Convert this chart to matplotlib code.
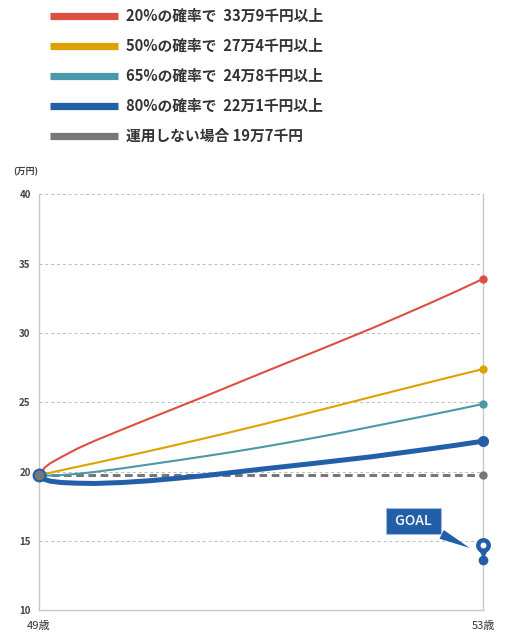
import matplotlib
matplotlib.use("Agg")
import matplotlib.pyplot as plt
from matplotlib.lines import Line2D
from matplotlib.transforms import offset_copy

plt.rcParams['font.family'] = ['Noto Sans CJK JP', 'DejaVu Sans']

# ages (years) and the simulated value of each scenario (万円)
ages = [49, 49.05, 49.1, 49.2, 49.35, 49.5, 49.75, 50, 50.25, 50.5, 50.75,
        51, 51.25, 51.5, 51.75, 52, 52.25, 52.5, 52.75, 53]
p20 = [19.75, 20.28, 20.6, 21.05, 21.68, 22.22, 23.04, 23.85, 24.65, 25.45,
       26.27, 27.09, 27.9, 28.7, 29.52, 30.34, 31.2, 32.07, 32.97, 33.9]
p50 = [19.75, 19.84, 19.92, 20.1, 20.36, 20.615, 21.055, 21.5, 21.955, 22.42,
       22.895, 23.38, 23.875, 24.38, 24.89, 25.4, 25.905, 26.41, 26.91, 27.4]
p65 = [19.75, 19.73, 19.72, 19.75, 19.85, 19.98, 20.24, 20.53, 20.82, 21.12,
       21.43, 21.76, 22.11, 22.47, 22.85, 23.25, 23.65, 24.05, 24.46, 24.88]
p80 = [19.75, 19.45, 19.32, 19.22, 19.17, 19.15, 19.22, 19.35, 19.53, 19.72,
       19.95, 20.18, 20.4, 20.62, 20.85, 21.08, 21.35, 21.62, 21.9, 22.2]
no_invest = [19.75, 19.75]
no_invest_ages = [49, 53]
goal_age = 53
goal_value = 13.6

legend_labels = ['20%の確率で  33万9千円以上',
                 '50%の確率で  27万4千円以上',
                 '65%の確率で  24万8千円以上',
                 '80%の確率で  22万1千円以上',
                 '運用しない場合 19万7千円']
colors = ['#DE4F41', '#DFA100', '#4A98A8', '#225FA8', '#777777']
yticks = [10, 15, 20, 25, 30, 35, 40]
xtick_labels = ['49歳', '53歳']

fig = plt.figure(figsize=(5.05, 6.44), dpi=100)
ax = fig.add_axes([0.0772, 0.0522, 0.8792, 0.6461])

ax.set_xlim(49, 53)
ax.set_ylim(10, 40)
ax.set_yticks(yticks)
ax.set_yticklabels([str(v) for v in yticks], fontsize=7, color='#444444',
                   fontweight='bold')
ax.set_xticks([49, 53])
ax.set_xticklabels(xtick_labels, fontsize=8, color='#333333')
ax.tick_params(length=0, pad=6)
ax.tick_params(axis='x', pad=8)
for y in yticks[1:]:
    ax.axhline(y, color='#bbbbbb', lw=0.7, ls=(0, (3, 3)), zorder=1)
ax.spines['top'].set_visible(False)
for s in ['left', 'right', 'bottom']:
    ax.spines[s].set_color('#c8c8c8')
    ax.spines[s].set_linewidth(1.0)

ax.plot(no_invest_ages, no_invest, color=colors[4], lw=2.2,
        ls=(0, (2.5, 1.5)), zorder=3)
ax.plot(ages, p65, color=colors[2], lw=1.5, zorder=4)
ax.plot(ages, p50, color=colors[1], lw=1.5, zorder=4)
ax.plot(ages, p20, color=colors[0], lw=1.5, zorder=4)
ax.plot(ages, p80, color=colors[3], lw=3.6, zorder=5, solid_capstyle='round',
        solid_joinstyle='round')

# end points
ax.plot(53, p20[-1], 'o', color=colors[0], ms=5, zorder=6, clip_on=False)
ax.plot(53, p50[-1], 'o', color=colors[1], ms=5, zorder=6, clip_on=False)
ax.plot(53, p65[-1], 'o', color=colors[2], ms=5, zorder=6, clip_on=False)
ax.plot(53, p80[-1], 'o', color=colors[3], ms=7, zorder=6, clip_on=False)
ax.plot(53, no_invest[-1], 'o', color=colors[4], ms=5, zorder=6, clip_on=False)
# start point
ax.plot(49, p80[0], 'o', color='#777777', mec=colors[3], mew=1.5, ms=8.5,
        zorder=7, clip_on=False)

# goal marker (dot + pin above it)
ax.plot(goal_age, goal_value, 'o', color=colors[3], ms=6, zorder=6,
        clip_on=False)
pin_tr = offset_copy(ax.transData, fig=fig, x=0, y=15, units='dots')
tip_tr = offset_copy(ax.transData, fig=fig, x=0, y=7, units='dots')
ax.plot(goal_age, goal_value, 'v', color=colors[3], ms=6, transform=tip_tr,
        zorder=6, clip_on=False)
ax.plot(goal_age, goal_value, 'o', color='white', mec=colors[3], mew=3.2,
        ms=7.5, transform=pin_tr, zorder=7, clip_on=False)

ax.annotate(' GOAL ', xy=(52.88, 14.5), xytext=(52.375, 16.46),
            color='white', fontsize=10, fontweight='medium',
            ha='center', va='center', zorder=8,
            bbox=dict(boxstyle='square,pad=0.45', fc=colors[3], ec='#9fb8dd',
                      lw=0.8),
            arrowprops=dict(arrowstyle='wedge,tail_width=0.7,shrink_factor=0.5',
                            fc=colors[3], ec='none', shrinkA=0, shrinkB=0))

fig.text(0.026, 0.733, '(万円)', fontsize=6.5, color='#444444', ha='left',
         va='center', fontweight='bold')

# legend drawn at the top
rows_y = [628, 598, 568, 538, 508]
for lbl, c, yp in zip(legend_labels, colors, rows_y):
    fig.add_artist(Line2D([50 / 505, 118 / 505], [yp / 644, yp / 644],
                          color=c, lw=5.2, solid_capstyle='butt'))
    fig.text(126 / 505, yp / 644, lbl, fontsize=10.6, fontweight='bold',
             color='#333333', ha='left', va='center')

fig.savefig('out.png', dpi=100)
